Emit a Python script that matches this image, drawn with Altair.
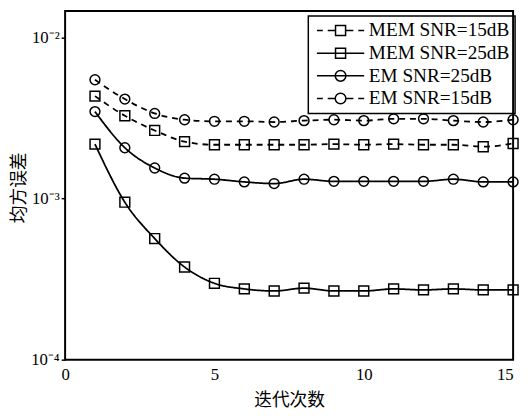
import altair as alt
import pandas as pd

iterations = list(range(1, 16))
series_names = ["MEM SNR=15dB", "MEM SNR=25dB", "EM SNR=25dB", "EM SNR=15dB"]

mem_15 = [4.33e-3, 3.27e-3, 2.65e-3, 2.26e-3, 2.16e-3, 2.16e-3, 2.16e-3, 2.16e-3,
          2.18e-3, 2.16e-3, 2.18e-3, 2.16e-3, 2.16e-3, 2.10e-3, 2.20e-3]
mem_25 = [2.18e-3, 9.5e-4, 5.65e-4, 3.76e-4, 2.98e-4, 2.75e-4, 2.67e-4, 2.78e-4,
          2.67e-4, 2.67e-4, 2.75e-4, 2.71e-4, 2.75e-4, 2.71e-4, 2.71e-4]
em_25 = [3.47e-3, 2.07e-3, 1.55e-3, 1.34e-3, 1.32e-3, 1.27e-3, 1.24e-3, 1.32e-3,
         1.28e-3, 1.28e-3, 1.28e-3, 1.28e-3, 1.32e-3, 1.27e-3, 1.27e-3]
em_15 = [5.47e-3, 4.15e-3, 3.38e-3, 3.09e-3, 3.02e-3, 3.02e-3, 2.99e-3, 3.05e-3,
         3.09e-3, 3.05e-3, 3.13e-3, 3.13e-3, 3.05e-3, 2.99e-3, 3.09e-3]

y_ticks = [1e-4, 1e-3, 1e-2]
x_ticks = [0, 5, 10, 15]

rows = []
for name, vals in zip(series_names, [mem_15, mem_25, em_25, em_15]):
    for it, v in zip(iterations, vals):
        rows.append({"iter": it, "mse": v, "series": name})
df = pd.DataFrame(rows)

SERIF = "Liberation Serif"
CJK = "Noto Sans CJK SC"

x_enc = alt.X("iter:Q",
              scale=alt.Scale(domain=[0, 15], nice=False, zero=False),
              axis=alt.Axis(values=x_ticks, title="迭代次数", ticks=False, domain=False,
                            grid=False, labelFont=SERIF, labelFontSize=17, labelColor="black",
                            labelPadding=7, labelFlush=False,
                            labelAlign={"condition": {"test": "datum.value >= 15", "value": "right"},
                                        "value": "center"},
                            titleFont=CJK, titleFontSize=18, titleFontWeight="normal",
                            titleColor="black", titlePadding=10))
y_enc = alt.Y("mse:Q",
              scale=alt.Scale(type="log", domain=[1e-4, 0.0146], nice=False),
              axis=alt.Axis(values=y_ticks, title="均方误差", ticks=True, tickSize=4,
                            tickColor="black", tickWidth=1.5, domain=False, grid=False,
                            labelExpr="datum.value > 0.005 ? '10⁻²' : (datum.value > 0.0005 ? '10⁻³' : '10⁻⁴')",
                            labelFont=SERIF, labelFontSize=17, labelColor="black",
                            labelPadding=2,
                            titleFont=CJK, titleFontSize=18, titleFontWeight="normal",
                            titleColor="black", titleX=-46, titleY=179,
                            titleBaseline="middle", titleAngle=270))

base = alt.Chart(df)

dash_range = [[6, 5], [1, 0], [1, 0], [6, 5]]
lines = base.mark_line(color="black", strokeWidth=1.8, interpolate="monotone").encode(
    x=x_enc, y=y_enc,
    strokeDash=alt.StrokeDash("series:N",
                              scale=alt.Scale(domain=series_names, range=dash_range),
                              legend=None),
)

points = base.mark_point(filled=False, color="black", strokeWidth=1.5, size=100, opacity=1).encode(
    x=x_enc, y=y_enc,
    shape=alt.Shape("series:N",
                    scale=alt.Scale(domain=series_names,
                                    range=["square", "square", "circle", "circle"]),
                    legend=None),
)

# legend glyphs: line segment with marker, in symbol units (1 unit = 6 px)
dashed_line = "M-1,0H0M0.83,0H2.08M3.92,0H5.17M6,0H7"
solid_line = "M-1,0H7"
sq = "M2.15,-0.85H3.85V0.85H2.15Z"
ci = "M2.1,0A0.9,0.9 0 1,0 3.9,0A0.9,0.9 0 1,0 2.1,0Z"
legend_paths = [dashed_line + sq, solid_line + sq, solid_line + ci, dashed_line + ci]

legend_layer = base.transform_filter("datum.iter < 0").mark_point(
    filled=False, color="black", strokeWidth=1.5, size=144, opacity=1
).encode(
    x=x_enc, y=y_enc,
    shape=alt.Shape("series:N",
                    scale=alt.Scale(domain=series_names, range=legend_paths),
                    legend=alt.Legend(title=None, orient="none", legendX=247, legendY=5,
                                      strokeColor="black", padding=5,
                                      labelFont=SERIF, labelFontSize=19.5, labelColor="black",
                                      labelOffset=37, symbolSize=144, symbolStrokeWidth=1.5,
                                      symbolStrokeColor="black", symbolFillColor="transparent",
                                      symbolOpacity=1, rowPadding=2)),
)

chart = alt.layer(lines, points, legend_layer).resolve_scale(
    shape="independent"
).resolve_legend(shape="independent").properties(
    width=455, height=354,
    autosize=alt.AutoSizeParams(type="none"),
    padding={"left": 58, "top": 0, "right": 7, "bottom": 50},
).configure_view(stroke="black", strokeWidth=2).configure_legend(strokeWidth=1.5)

chart.save("out.html", embed_options={"renderer": "svg", "actions": False})
